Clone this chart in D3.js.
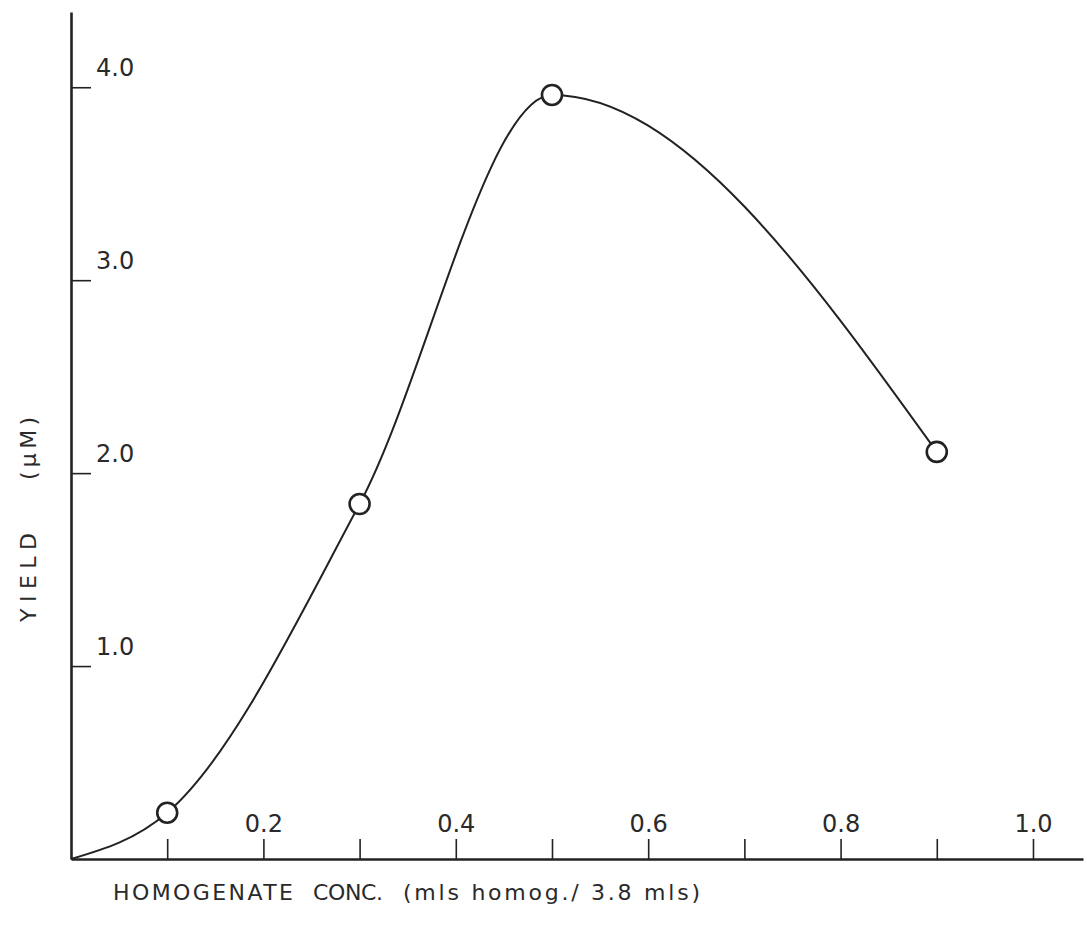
<!DOCTYPE html>
<html>
<head>
<meta charset="utf-8">
<script src="https://cdn.jsdelivr.net/npm/d3@7"></script>
<style>
  body { margin: 0; background: #fff; }
  text { font-family: "DejaVu Sans", sans-serif; fill: #2a2a2a; }
</style>
</head>
<body>
<div id="chart"></div>
<script>
// values
const conc = [0, 0.1, 0.3, 0.5, 0.9];          // mls homog. / 3.8 mls
const yieldUM = [0, 0.24, 1.84, 3.96, 2.11];    // yield (uM)
const measured = [1, 2, 3, 4];                  // indexes that carry an open circle
const xTicks = [0.1, 0.2, 0.3, 0.4, 0.5, 0.6, 0.7, 0.8, 0.9, 1.0];
const xTickLabels = ["", "0.2", "", "0.4", "", "0.6", "", "0.8", "", "1.0"];
const yTicks = [1, 2, 3, 4];
const yTickLabels = ["1.0", "2.0", "3.0", "4.0"];

const width = 1087, height = 943;
const ink = "#222";

let svg = d3.select("#chart").append("svg")
  .attr("width", width)
  .attr("height", height);

// origin at (71, 859); 0.1 unit of x ~ 96px, 1 unit of y ~ 193px
let x = d3.scaleLinear().domain([0, 1.052]).range([71, 1083]);
let y = d3.scaleLinear().domain([0, 4.39]).range([859, 12]);

// x axis: ticks pointing up, labels above them
let xAxis = d3.axisTop(x)
  .tickValues(xTicks)
  .tickSize(20)
  .tickSizeOuter(0)
  .tickPadding(7)
  .tickFormat((d, i) => xTickLabels[i]);

let gx = svg.append("g")
  .attr("transform", "translate(0," + y(0) + ")")
  .call(xAxis);
gx.select(".domain").attr("stroke", ink).attr("stroke-width", 2.6);
gx.selectAll(".tick line").attr("stroke", ink).attr("stroke-width", 1.6);
gx.selectAll(".tick text").attr("font-size", 24).attr("fill", "#2a2a2a");

// y axis: ticks pointing right, labels sitting above the tick
let yAxis = d3.axisRight(y)
  .tickValues(yTicks)
  .tickSize(20)
  .tickSizeOuter(0)
  .tickFormat((d, i) => yTickLabels[i]);

let gy = svg.append("g")
  .attr("transform", "translate(" + x(0) + ",0)")
  .call(yAxis);
gy.select(".domain").attr("stroke", ink).attr("stroke-width", 2.6);
gy.selectAll(".tick line").attr("stroke", ink).attr("stroke-width", 1.6);
gy.selectAll(".tick text")
  .attr("font-size", 24)
  .attr("fill", "#2a2a2a")
  .attr("x", 25)
  .attr("y", -12)
  .attr("dy", 0);

// smooth hand-drawn curve through the points, from the origin
let pts = conc.map((c, i) => [c, yieldUM[i]]);
let line = d3.line()
  .x(d => x(d[0]))
  .y(d => y(d[1]))
  .curve(d3.curveMonotoneX);

svg.append("path")
  .datum(pts)
  .attr("d", line)
  .attr("fill", "none")
  .attr("stroke", ink)
  .attr("stroke-width", 2);

// open circles
svg.selectAll("circle").data(measured.map(i => pts[i]))
  .enter().append("circle")
  .attr("cx", d => x(d[0]))
  .attr("cy", d => y(d[1]))
  .attr("r", 10)
  .attr("fill", "#fff")
  .attr("stroke", ink)
  .attr("stroke-width", 2.6);

// x axis title
let xt = svg.append("text").attr("y", 900).attr("font-size", 22);
xt.append("tspan").attr("x", 113).attr("textLength", 180).attr("lengthAdjust", "spacing").text("HOMOGENATE");
xt.append("tspan").attr("x", 313).attr("textLength", 70).attr("lengthAdjust", "spacing").text("CONC.");
xt.append("tspan").attr("x", 403).attr("textLength", 297).attr("lengthAdjust", "spacing").text("(mls homog./ 3.8 mls)");

// y axis title, rotated
let yt = svg.append("g").attr("transform", "translate(36,0) rotate(-90)");
yt.append("text").attr("x", -622).attr("font-size", 22)
  .attr("textLength", 89).attr("lengthAdjust", "spacing").text("YIELD");
yt.append("text").attr("x", -480).attr("font-size", 22)
  .attr("textLength", 63).attr("lengthAdjust", "spacing").text("(\u00B5M)");
</script>
</body>
</html>
